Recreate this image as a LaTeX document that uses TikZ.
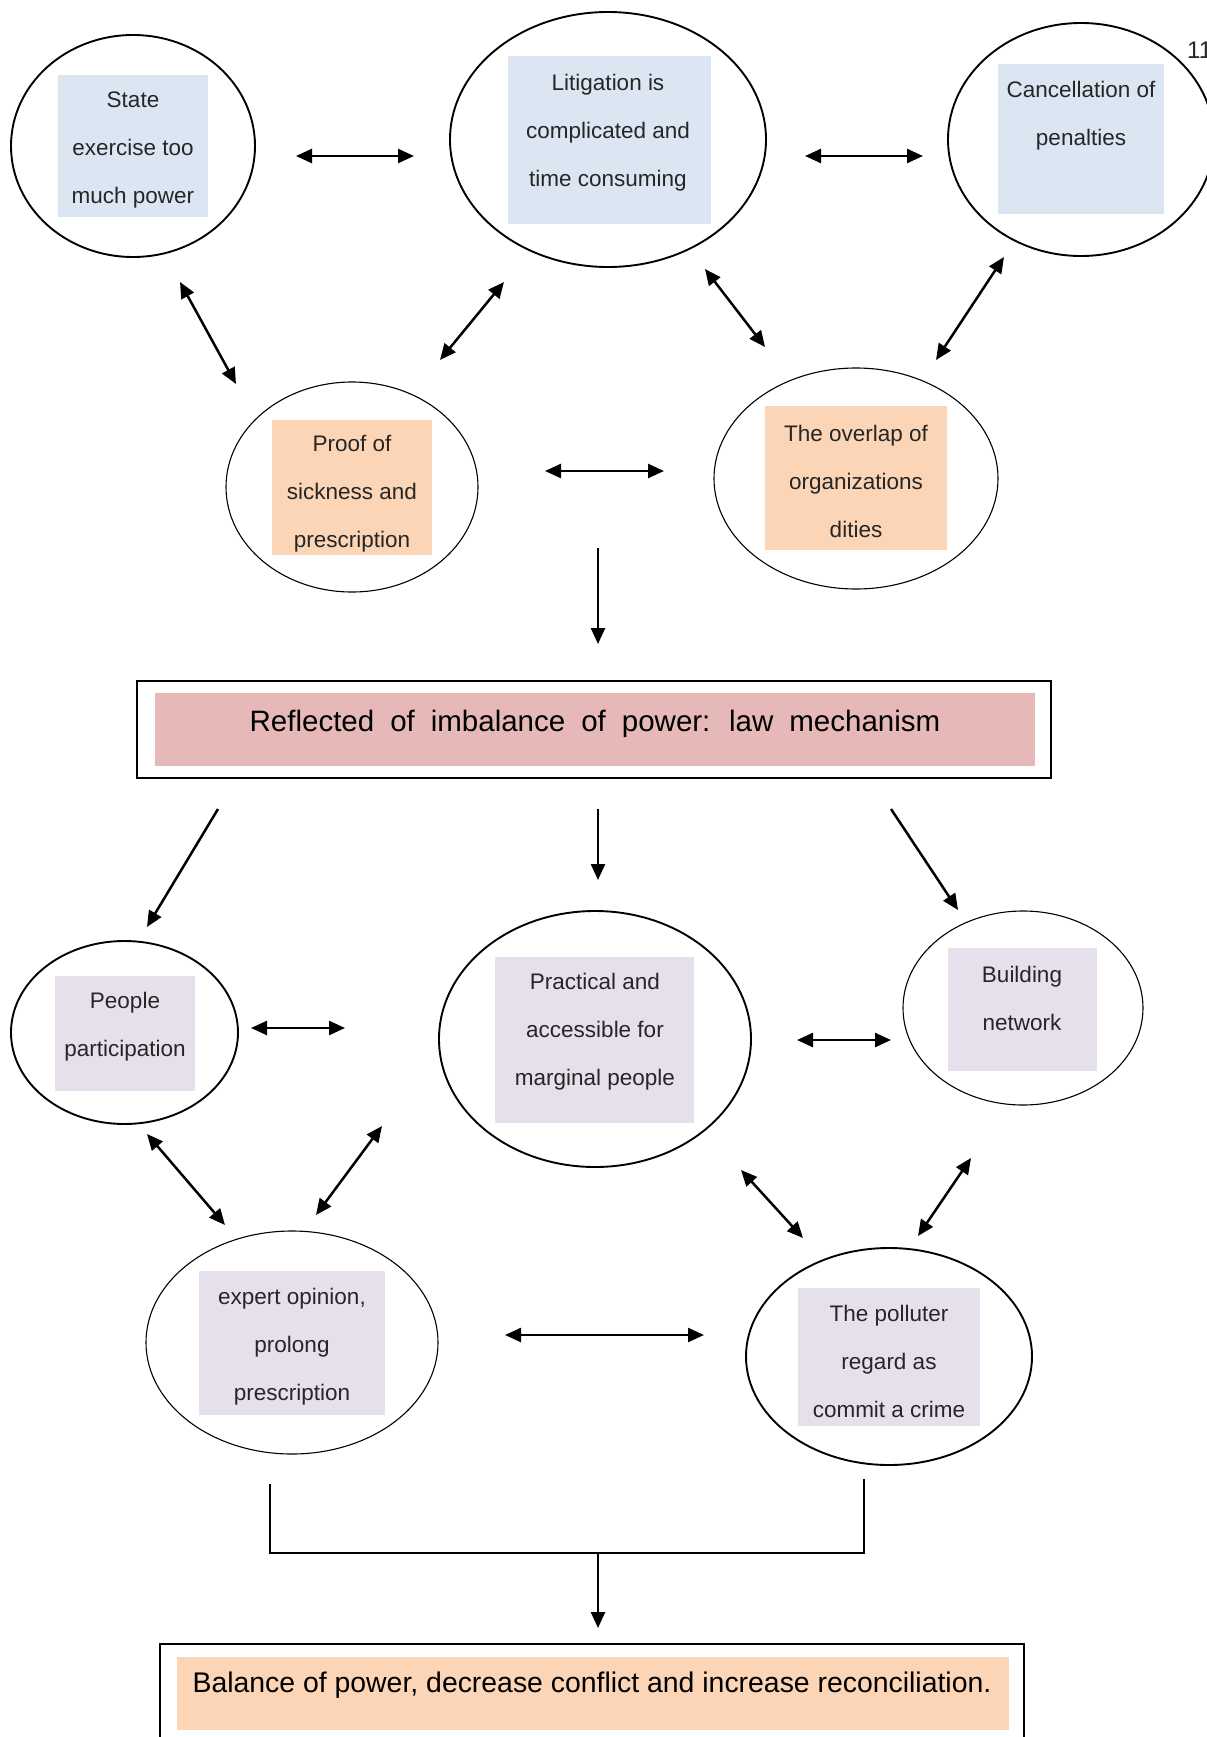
\documentclass[tikz,border=0pt]{standalone}
\usepackage{fontspec}
\setmainfont{Liberation Sans}
\usetikzlibrary{arrows.meta,shapes.geometric}
\definecolor{boxblue}{HTML}{DCE6F2}
\definecolor{boxpeach}{HTML}{FBD5B5}
\definecolor{boxpink}{HTML}{E6B9B8}
\definecolor{boxlilac}{HTML}{E5E0EC}
\definecolor{txt}{HTML}{262626}
\begin{document}
\begin{tikzpicture}[x=1pt,y=-1pt,
  ringbold/.style={draw, ellipse, inner sep=0pt, line width=1.9pt},
  ringthin/.style={draw, ellipse, inner sep=0pt, line width=1.1pt},
  label/.style={align=center, text=txt, inner sep=0pt, font=\fontsize{22.5}{48}\selectfont},
  link/.style={line width=2.5pt, {Triangle[length=16pt,width=14pt]}-{Triangle[length=16pt,width=14pt]}},
  flow/.style={line width=2.5pt, -{Triangle[length=16pt,width=14pt]}},
  frame/.style={line width=1.9pt}]
\useasboundingbox (0,0) rectangle (1207,1737);

% page number in the corner
\node[anchor=west, inner sep=0pt, text=txt, font=\fontsize{24}{28}\selectfont] (pagenum) at (1187,50) {11};

% ---------- upper group of causes ----------
\fill[boxblue] (58,75) rectangle (208,217);
\fill[boxblue] (508,56) rectangle (711,224);
\fill[boxblue] (998,64) rectangle (1164,214);
\fill[boxpeach] (272,420) rectangle (432,555);
\fill[boxpeach] (765,406) rectangle (947,550);

\node[ringbold, minimum width=244pt, minimum height=222pt] (state) at (133,146) {};
\node[ringbold, minimum width=316pt, minimum height=255pt] (litig) at (608,139.5) {};
\node[ringbold, minimum width=266pt, minimum height=233pt] (cancel) at (1081,139.5) {};
\node[ringthin, minimum width=252pt, minimum height=210pt] (proof) at (352,487) {};
\node[ringthin, minimum width=284pt, minimum height=221pt] (overlap) at (856,478.5) {};

\node[label] (stateTxt) at (133,149.5) {State\\exercise too\\much power};
\node[label] (litigTxt) at (608,133) {Litigation is\\complicated and\\time consuming};
\node[label] (cancelTxt) at (1081,115.5) {Cancellation of\\penalties};
\node[label] (proofTxt) at (352,494) {Proof of\\sickness and\\prescription};
\node[label] (overlapTxt) at (856,481.5) {The overlap of\\organizations\\dities};

% arrow end points of the upper group
\coordinate (a1) at (296,156);  \coordinate (a2) at (414,156);
\coordinate (b1) at (805,156);  \coordinate (b2) at (923,156);
\coordinate (c1) at (180,282);  \coordinate (c2) at (236,384);
\coordinate (d1) at (440,360);  \coordinate (d2) at (504,282);
\coordinate (e1) at (705,269);  \coordinate (e2) at (765,347);
\coordinate (f1) at (936,360);  \coordinate (f2) at (1004,257);
\coordinate (g1) at (545,471);  \coordinate (g2) at (664,471);
\coordinate (h1) at (598,548);  \coordinate (h2) at (598,644);

\draw[link] (a1) -- (a2);
\draw[link] (b1) -- (b2);
\draw[link] (c1) -- (c2);
\draw[link] (d1) -- (d2);
\draw[link] (e1) -- (e2);
\draw[link] (f1) -- (f2);
\draw[link] (g1) -- (g2);
\draw[flow] (h1) -- (h2);

% ---------- central statement ----------
\draw[frame] (137,681) rectangle (1051,778);
\fill[boxpink] (155,693) rectangle (1035,766);
\node[text=black, inner sep=0pt, font=\fontsize{29.5}{34}\selectfont] (mech) at (595,724)
  {\spaceskip=16pt\relax Reflected of imbalance of power: law mechanism};

% ---------- lower group of remedies ----------
\fill[boxlilac] (55,976) rectangle (195,1091);
\fill[boxlilac] (495,957) rectangle (694,1123);
\fill[boxlilac] (948,948) rectangle (1097,1071);
\fill[boxlilac] (199,1271) rectangle (385,1415);
\fill[boxlilac] (798,1288) rectangle (980,1426);

\node[ringbold, minimum width=227pt, minimum height=183pt] (people) at (124.5,1032.5) {};
\node[ringbold, minimum width=312pt, minimum height=256pt] (practical) at (595,1039) {};
\node[ringthin, minimum width=240pt, minimum height=194pt] (network) at (1023,1008) {};
\node[ringthin, minimum width=292pt, minimum height=223pt] (expert) at (292,1342.5) {};
\node[ringbold, minimum width=286pt, minimum height=217pt] (polluter) at (889,1356.5) {};

\node[label] (peopleTxt) at (125,1027) {People\\participation};
\node[label] (practicalTxt) at (595,1032) {Practical and\\accessible for\\marginal people};
\node[label] (networkTxt) at (1022,998.5) {Building\\network};
\node[label] (expertTxt) at (292,1346.5) {expert opinion,\\prolong\\prescription};
\node[label] (polluterTxt) at (889,1361.5) {The polluter\\regard as\\commit a crime};

% arrow end points of the lower group
\coordinate (i1) at (218,809);  \coordinate (i2) at (147,927);
\coordinate (j1) at (598,809);  \coordinate (j2) at (598,880);
\coordinate (k1) at (891,809);  \coordinate (k2) at (958,910);
\coordinate (l1) at (251,1028); \coordinate (l2) at (345,1028);
\coordinate (m1) at (797,1040); \coordinate (m2) at (891,1040);
\coordinate (n1) at (147,1134); \coordinate (n2) at (225,1225);
\coordinate (o1) at (316,1215); \coordinate (o2) at (382,1126);
\coordinate (p1) at (741,1170); \coordinate (p2) at (803,1238);
\coordinate (q1) at (918,1236); \coordinate (q2) at (971,1158);
\coordinate (r1) at (505,1335); \coordinate (r2) at (704,1335);

\draw[flow] (i1) -- (i2);
\draw[flow] (j1) -- (j2);
\draw[flow] (k1) -- (k2);
\draw[link] (l1) -- (l2);
\draw[link] (m1) -- (m2);
\draw[link] (n1) -- (n2);
\draw[link] (o1) -- (o2);
\draw[link] (p1) -- (p2);
\draw[link] (q1) -- (q2);
\draw[link] (r1) -- (r2);

% ---------- joining bracket and outcome ----------
\coordinate (brL) at (270,1484);
\coordinate (brR) at (864,1479);
\coordinate (brM) at (598,1553);
\coordinate (outTop) at (598,1628);
\draw[frame] (brL) -- (brL |- brM) -- (brR |- brM) -- (brR);
\draw[flow] (brM) -- (outTop);

\draw[frame] (160,1760) -- (160,1644) -- (1024,1644) -- (1024,1760);
\fill[boxpeach] (177,1657) rectangle (1009,1730);
\node[text=black, inner sep=0pt, font=\fontsize{28.4}{34}\selectfont] (outcome) at (592,1685)
  {Balance of power, decrease conflict and increase reconciliation.};
\end{tikzpicture}
\end{document}
